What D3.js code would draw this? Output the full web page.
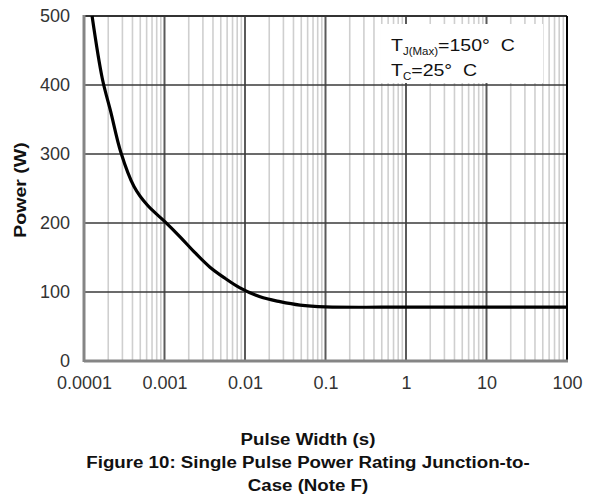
<!DOCTYPE html>
<html>
<head>
<meta charset="utf-8">
<script src="https://cdn.jsdelivr.net/npm/d3@7/dist/d3.min.js"></script>
<style>
  html, body { margin: 0; padding: 0; background: #fff; }
  svg { display: block; font-family: "Liberation Sans", Arial, sans-serif; }
</style>
</head>
<body>
<svg id="chart" width="592" height="497"></svg>
<script>
// Single pulse power rating, junction-to-case
const pulseWidth = [0.000126, 0.000169, 0.000215, 0.000286, 0.000418, 0.000611, 0.00101, 0.00156, 0.00239, 0.00367, 0.00564, 0.00867, 0.0154, 0.0272, 0.0482, 0.1, 1, 10, 100];
const powerW     = [500,      409,      361,      303,      253,      226,      202,     180,     157,     136,     120,     106,     93,     86,     81,     78.5, 78, 78, 78];

const xTicks = [0.0001, 0.001, 0.01, 0.1, 1, 10, 100];
const xTickLabels = ["0.0001", "0.001", "0.01", "0.1", "1", "10", "100"];
const yTicks = [0, 100, 200, 300, 400, 500];

const legendLines = [
  { main: "T", sub: "J(Max)", rest: "=150°\u00a0\u00a0C" },
  { main: "T", sub: "C", rest: "=25°\u00a0\u00a0C" }
];
const captionLines = ["Pulse Width (s)", "Figure 10: Single Pulse Power Rating Junction-to-", "Case (Note F)"];

const svg = d3.select("#chart");
const plot = { left: 84, right: 567, top: 16, bottom: 361 };
const stretch = 1.1; // horizontal widening of the lettering

const x = d3.scaleLog().domain([0.0001, 100]).range([plot.left, plot.right]);
const y = d3.scaleLinear().domain([0, 500]).range([plot.bottom, plot.top]);

// minor vertical grid (2..9 within each decade)
const minor = [];
for (let e = -4; e < 2; e++) {
  for (let m = 2; m <= 9; m++) minor.push(m * Math.pow(10, e));
}
svg.append("g").selectAll("line").data(minor).join("line")
  .attr("x1", d => x(d)).attr("x2", d => x(d))
  .attr("y1", plot.top).attr("y2", plot.bottom)
  .attr("stroke", "#cfcfcf").attr("stroke-width", 1.6);

// major vertical grid (decades)
svg.append("g").selectAll("line").data(xTicks.slice(1, -1)).join("line")
  .attr("x1", d => x(d)).attr("x2", d => x(d))
  .attr("y1", plot.top).attr("y2", plot.bottom)
  .attr("stroke", "#5a5a5a").attr("stroke-width", 2);

// horizontal grid
svg.append("g").selectAll("line").data(yTicks.slice(1, -1)).join("line")
  .attr("x1", plot.left).attr("x2", plot.right)
  .attr("y1", d => y(d)).attr("y2", d => y(d))
  .attr("stroke", "#3a3a3a").attr("stroke-width", 1.6);

// legend box (white background covering the grid)
const lg = svg.append("g");
lg.append("rect").attr("x", 381).attr("y", 24).attr("width", 162).attr("height", 59).attr("fill", "#fff");
const lgText = lg.append("g").attr("transform", `translate(391,0) scale(1.15,1)`);
legendLines.forEach((l, i) => {
  const t = lgText.append("text").attr("x", 0).attr("y", 51 + i * 25)
    .attr("font-size", 17).attr("fill", "#111");
  t.append("tspan").text(l.main);
  t.append("tspan").attr("font-size", 10).attr("dy", 4).text(l.sub);
  t.append("tspan").attr("dy", -4).text(l.rest);
});

// frame
svg.append("line").attr("x1", plot.left).attr("x2", plot.right).attr("y1", plot.top).attr("y2", plot.top)
  .attr("stroke", "#333").attr("stroke-width", 2);
svg.append("line").attr("x1", plot.right).attr("x2", plot.right).attr("y1", plot.top).attr("y2", plot.bottom)
  .attr("stroke", "#000").attr("stroke-width", 2);
svg.append("line").attr("x1", plot.left).attr("x2", plot.left).attr("y1", plot.top - 1).attr("y2", plot.bottom + 1)
  .attr("stroke", "#858585").attr("stroke-width", 3);
svg.append("line").attr("x1", plot.left).attr("x2", plot.right + 1).attr("y1", plot.bottom).attr("y2", plot.bottom)
  .attr("stroke", "#858585").attr("stroke-width", 3);

// power curve
const line = d3.line()
  .x((d, i) => x(pulseWidth[i]))
  .y(d => y(d))
  .curve(d3.curveCatmullRom.alpha(0.5));
svg.append("path").datum(powerW)
  .attr("d", line)
  .attr("fill", "none").attr("stroke", "#000").attr("stroke-width", 3.2)
  .attr("stroke-linejoin", "round");

// axes labels
const xAxis = d3.axisBottom(x).tickValues(xTicks)
  .tickFormat((d, i) => xTickLabels[i]).tickSize(0).tickPadding(15);
const gx = svg.append("g").attr("transform", `translate(0,${plot.bottom})`).call(xAxis);
gx.select(".domain").remove();
gx.selectAll("text").attr("font-size", 18).attr("fill", "#333").attr("font-family", "Liberation Sans, Arial, sans-serif");

const yAxis = d3.axisLeft(y).tickValues(yTicks).tickSize(0).tickPadding(14);
const gy = svg.append("g").attr("transform", `translate(${plot.left},0)`).call(yAxis);
gy.select(".domain").remove();
gy.selectAll("text").attr("font-size", 18).attr("fill", "#333").attr("font-family", "Liberation Sans, Arial, sans-serif");

// axis title
svg.append("text")
  .attr("transform", `translate(26,190) rotate(-90) scale(${stretch + 0.05},1)`)
  .attr("text-anchor", "middle").attr("font-size", 17).attr("font-weight", "bold").attr("fill", "#111")
  .text("Power (W)");

// caption
const cap = svg.append("g").attr("transform", `translate(308,0) scale(${stretch},1)`);
captionLines.forEach((c, i) => {
  cap.append("text").attr("x", 0).attr("y", 445 + i * 23)
    .attr("text-anchor", "middle").attr("font-size", 17).attr("font-weight", "bold").attr("fill", "#111")
    .text(c);
});
</script>
</body>
</html>
